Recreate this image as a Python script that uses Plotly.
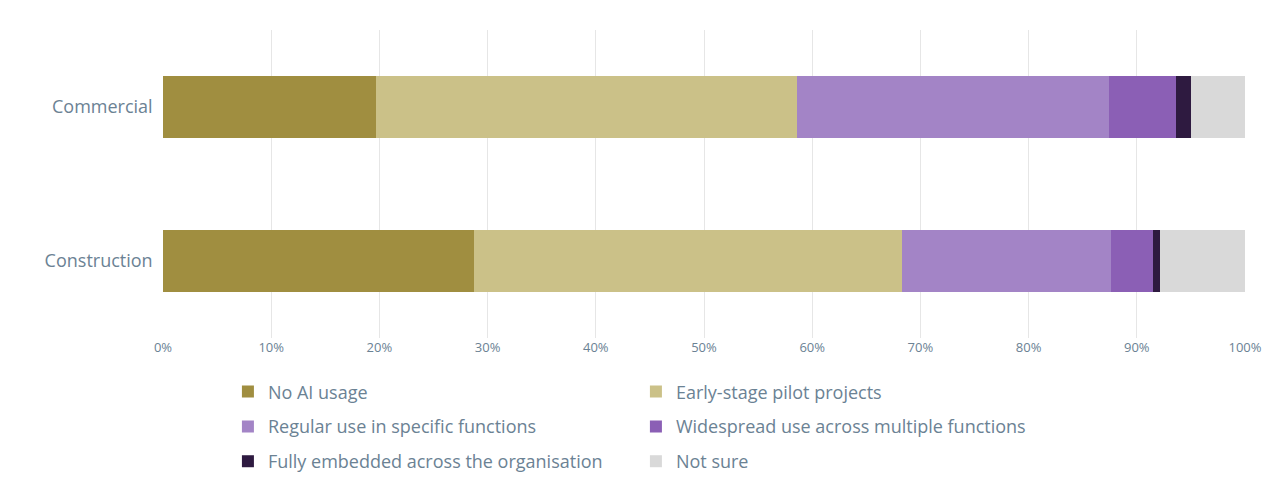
import plotly.graph_objects as go

sectors = ["Construction", "Commercial"]
series_names = [
    "No AI usage",
    "Early-stage pilot projects",
    "Regular use in specific functions",
    "Widespread use across multiple functions",
    "Fully embedded across the organisation",
    "Not sure",
]
construction = [28.7, 39.6, 19.3, 3.9, 0.6, 7.9]
commercial = [19.7, 38.9, 28.8, 6.2, 1.4, 5.0]
colors = ["#a08e40", "#cbc188", "#a384c6", "#8b5fb5", "#2e1a40", "#d9d9d9"]

legend_ids = ["legend", "legend", "legend2", "legend2", "legend3", "legend3"]

fig = go.Figure()
for i, name in enumerate(series_names):
    fig.add_trace(go.Bar(
        y=sectors,
        x=[construction[i] / 100, commercial[i] / 100],
        name=name,
        orientation="h",
        marker=dict(color=colors[i], line=dict(width=0)),
        width=0.4,
        legend=legend_ids[i],
    ))

leg = dict(orientation="h", x=0.06, yanchor="top", entrywidth=363,
           font=dict(size=18), traceorder="normal", bgcolor="rgba(0,0,0,0)")
fig.update_layout(
    barmode="stack",
    width=1280, height=494,
    margin=dict(l=155, r=43, t=22, b=164, autoexpand=False),
    plot_bgcolor="white", paper_bgcolor="white",
    font=dict(family="Open Sans", color="#6b8294"),
    xaxis=dict(range=[0, 1], tickformat=".0%", dtick=0.1, showgrid=True,
               gridcolor="#e6e6e6", zeroline=False, tickfont=dict(size=13)),
    yaxis=dict(tickfont=dict(size=18), ticksuffix="  "),
    legend=dict(leg, y=-0.115),
    legend2=dict(leg, y=-0.228),
    legend3=dict(leg, y=-0.341),
    bargap=0.6,
)

fig.write_html("out.html")
